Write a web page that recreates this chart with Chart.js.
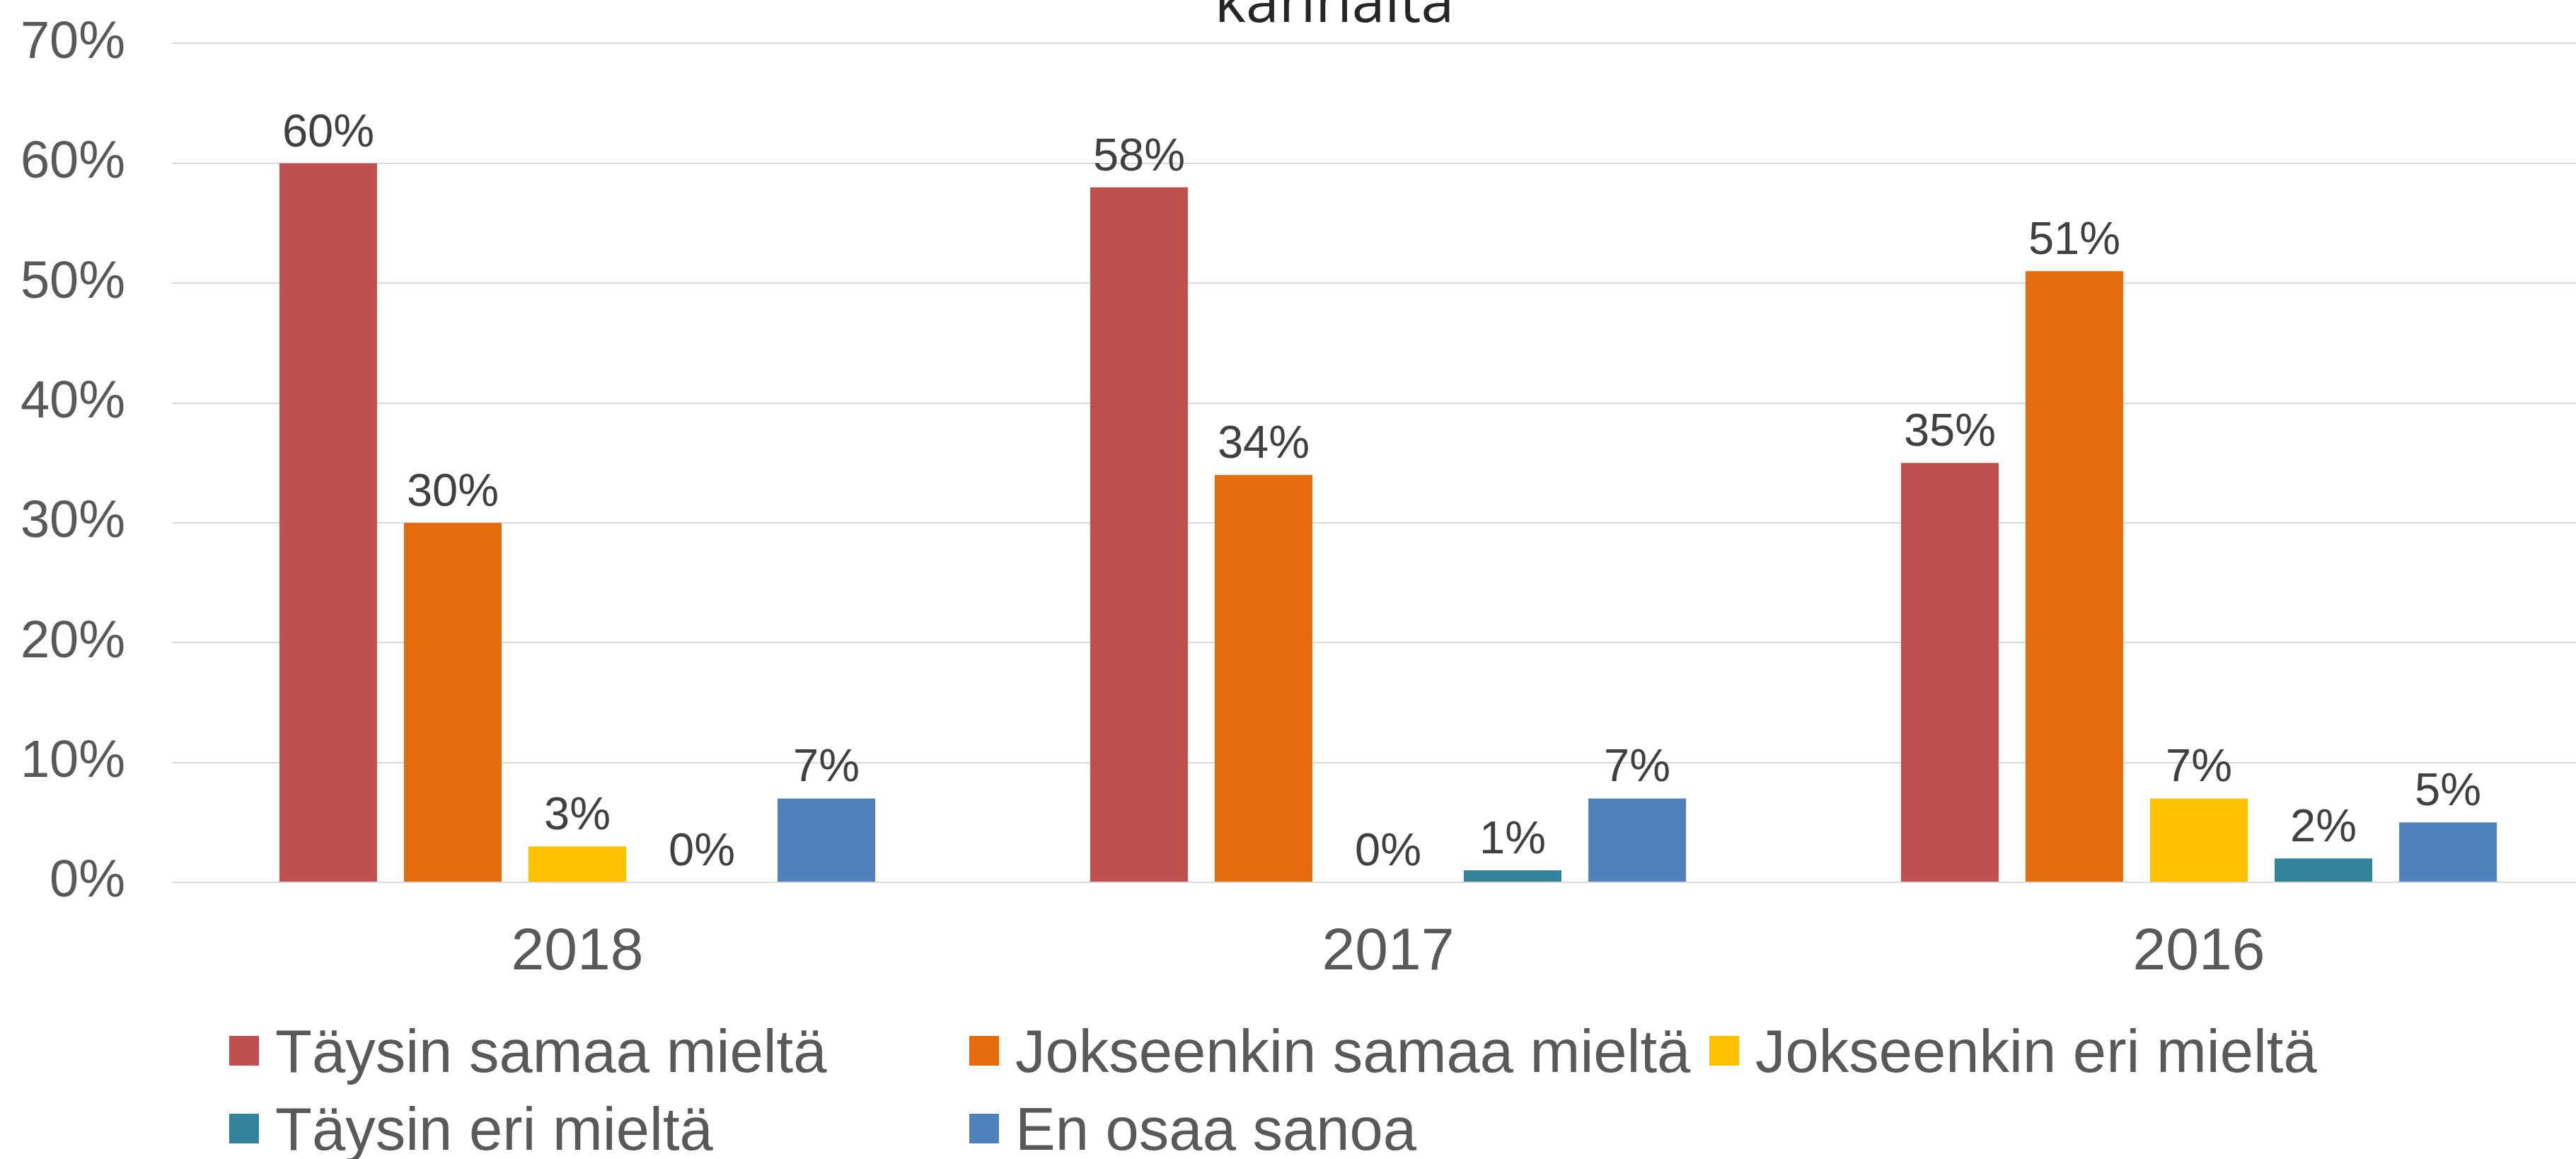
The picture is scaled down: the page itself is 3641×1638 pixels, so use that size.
<!DOCTYPE html>
<html><head><meta charset="utf-8">
<script src="https://cdn.jsdelivr.net/npm/chart.js@4/dist/chart.umd.min.js"></script>
<style>
html,body{margin:0;padding:0;width:3641px;height:1638px;overflow:hidden;background:#fff;}
#wrap{position:absolute;left:0;top:-49px;width:3772px;height:1687px;}
#legend{position:absolute;left:0;top:0;width:3641px;height:1638px;pointer-events:none;font-family:"Liberation Sans",Arial,sans-serif;font-size:85px;color:#595959;}
.box{position:absolute;width:42px;height:42px;}
.lt{position:absolute;line-height:100px;white-space:nowrap;}
</style></head><body>
<div id="wrap"><canvas id="c" width="3772" height="1687" style="width:3772px;height:1687px"></canvas></div>
<div id="legend"></div>
<script>
// ---- data ----
const categories = ['2018', '2017', '2016'];
const seriesNames = ['Täysin samaa mieltä', 'Jokseenkin samaa mieltä', 'Jokseenkin eri mieltä', 'Täysin eri mieltä', 'En osaa sanoa'];
const taysinSamaa = [60, 58, 35];
const jokseenkinSamaa = [30, 34, 51];
const jokseenkinEri = [3, 0, 7];
const taysinEri = [0, 1, 2];
const enOsaa = [7, 7, 5];
const yTickValues = [0, 10, 20, 30, 40, 50, 60, 70];
const titleText = 'kannalta';

// ---- styles ----
const colors = ['#C0504D', '#E46C0A', '#FFC000', '#31849B', '#4F81BD'];
const seriesValues = [taysinSamaa, jokseenkinSamaa, jokseenkinEri, taysinEri, enOsaa];

const valueLabels = {
  id: 'valueLabels',
  afterDatasetsDraw(chart) {
    const ctx = chart.ctx;
    ctx.save();
    ctx.font = '65px "Liberation Sans", Arial, sans-serif';
    ctx.fillStyle = '#404040';
    ctx.textAlign = 'center';
    ctx.textBaseline = 'alphabetic';
    chart.data.datasets.forEach((ds, i) => {
      chart.getDatasetMeta(i).data.forEach((bar, j) => {
        ctx.fillText(ds.data[j] + '%', bar.x, bar.y - 24);
      });
    });
    ctx.restore();
  }
};

const chart = new Chart(document.getElementById('c'), {
  type: 'bar',
  data: {
    labels: categories,
    datasets: seriesNames.map((n, i) => ({
      label: n,
      data: seriesValues[i],
      backgroundColor: colors[i],
      borderWidth: 0,
      categoryPercentage: 0.768,
      barPercentage: 0.784
    }))
  },
  options: {
    responsive: false,
    animation: false,
    layout: { padding: { left: 0, right: 0, top: 0, bottom: 251 } },
    plugins: {
      legend: { display: false },
      tooltip: { enabled: false },
      title: {
        display: true,
        text: titleText,
        color: '#262626',
        font: { family: '"Open Sans", sans-serif', size: 84, weight: 'normal', lineHeight: 1.15 },
        padding: { top: 0, bottom: 6 }
      }
    },
    scales: {
      x: {
        grid: { display: false, drawTicks: false },
        border: { display: false },
        ticks: { color: '#595959', font: { family: '"Liberation Sans", Arial, sans-serif', size: 84 }, padding: 49 },
        afterFit(s) { s.height = 140; }
      },
      y: {
        min: 0, max: 70,
        afterBuildTicks(s) { s.ticks = yTickValues.map(v => ({ value: v })); },
        grid: { color: '#D9D9D9', lineWidth: 2, drawTicks: false },
        border: { display: false },
        ticks: { color: '#595959', font: { family: '"Liberation Sans", Arial, sans-serif', size: 74 }, padding: 66, callback: v => v + '%' },
        afterFit(s) { s.width = 243; }
      },
      yRightSpace: {
        position: 'right',
        display: true,
        grid: { display: false, drawTicks: false },
        border: { display: false },
        ticks: { display: false },
        afterFit(s) { s.width = 91; }
      }
    }
  },
  plugins: [valueLabels]
});

// ---- legend (HTML) ----
const leg = document.getElementById('legend');
seriesNames.forEach((n, i) => {
  const col = i % 3, row = Math.floor(i / 3);
  const left = 324 + col * 1046;
  const baseline = 1515 + row * 110;
  const b = document.createElement('div');
  b.className = 'box';
  b.style.left = left + 'px';
  b.style.top = (baseline - 51) + 'px';
  b.style.background = colors[i];
  leg.appendChild(b);
  const t = document.createElement('div');
  t.className = 'lt';
  t.style.left = (left + 65) + 'px';
  t.style.top = (baseline - 79.4) + 'px';
  t.textContent = n;
  leg.appendChild(t);
});
</script>
</body></html>
